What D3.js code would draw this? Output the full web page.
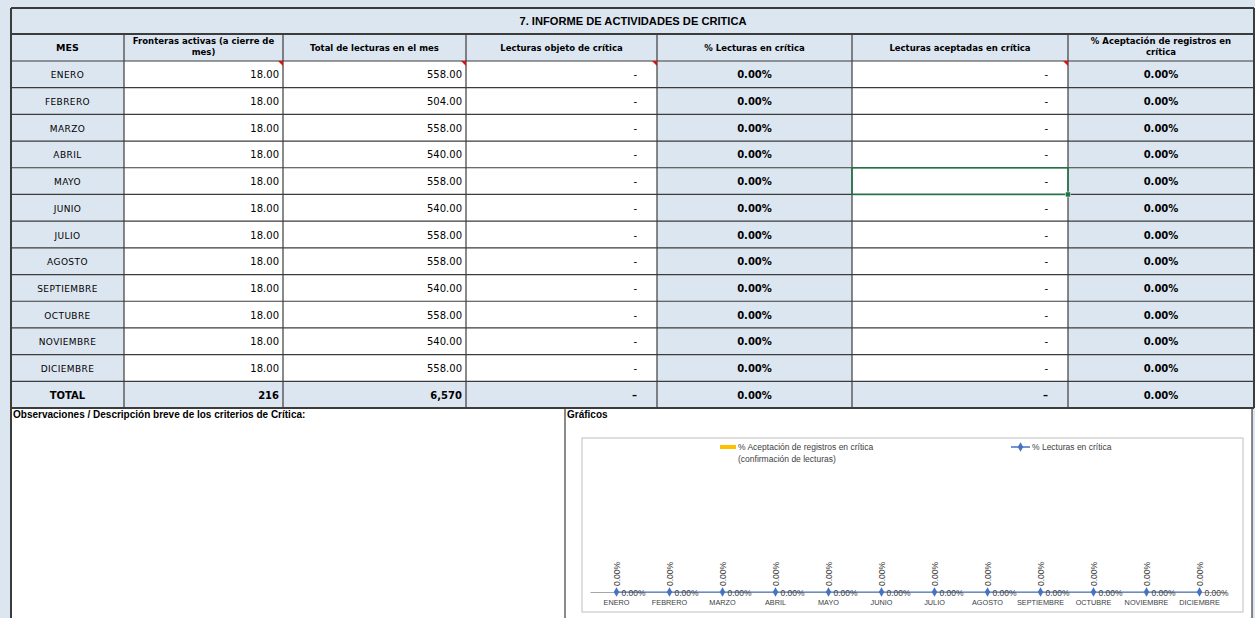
<!DOCTYPE html>
<html>
<head>
<meta charset="utf-8">
<script src="https://cdn.jsdelivr.net/npm/d3@7"></script>
<style>
  body { margin: 0; background: #dce6f1; }
  svg { display: block; }
</style>
</head>
<body>
<div id="chart"></div>
<script>
"use strict";

// ---- data ----
var months = ["ENERO", "FEBRERO", "MARZO", "ABRIL", "MAYO", "JUNIO", "JULIO",
              "AGOSTO", "SEPTIEMBRE", "OCTUBRE", "NOVIEMBRE", "DICIEMBRE"];
var fronteras = [18, 18, 18, 18, 18, 18, 18, 18, 18, 18, 18, 18];
var lecturasTotal = [558, 504, 558, 540, 558, 540, 558, 558, 540, 558, 540, 558];
var lecturasObjeto = [0, 0, 0, 0, 0, 0, 0, 0, 0, 0, 0, 0];
var pctLecturas = [0, 0, 0, 0, 0, 0, 0, 0, 0, 0, 0, 0];
var lecturasAceptadas = [0, 0, 0, 0, 0, 0, 0, 0, 0, 0, 0, 0];
var pctAceptacion = [0, 0, 0, 0, 0, 0, 0, 0, 0, 0, 0, 0];
var headers = [["MES"], ["Fronteras activas (a cierre de", "mes)"], ["Total de lecturas en el mes"],
               ["Lecturas objeto de crítica"], ["% Lecturas en crítica"],
               ["Lecturas aceptadas en crítica"], ["% Aceptación de registros en", "crítica"]];
var title = "7. INFORME DE ACTIVIDADES DE CRITICA";
var legendBar = ["% Aceptación de registros en crítica", "(confirmación de lecturas)"];
var legendLine = "% Lecturas en crítica";

var W = 1255, H = 618;
var blue = "#dce6f1", grid = "#3c3c3c";
var colX = [11, 124, 283, 466, 657, 852, 1068, 1254];
var colFill = [blue, "#fff", "#fff", "#fff", blue, "#fff", blue];

var svg = d3.select("#chart").append("svg")
            .attr("width", W).attr("height", H);

var f2 = d3.format(",.2f"), pct = d3.format(".2%"), f0 = d3.format(",");
var dash = function(v){ return v === 0 ? "-" : f2(v); };

var rows = months.map(function(m, i){
  return [m, f2(fronteras[i]), f2(lecturasTotal[i]), dash(lecturasObjeto[i]),
          pct(pctLecturas[i]), dash(lecturasAceptadas[i]), pct(pctAceptacion[i])];
});
var totalRow = ["TOTAL", f0(d3.sum(fronteras)), f0(d3.sum(lecturasTotal)),
                d3.sum(lecturasObjeto) === 0 ? "–" : f0(d3.sum(lecturasObjeto)),
                pct(d3.sum(pctLecturas)),
                d3.sum(lecturasAceptadas) === 0 ? "–" : f0(d3.sum(lecturasAceptadas)),
                pct(d3.sum(pctAceptacion))];

var rowY = d3.scaleBand().domain(d3.range(13)).range([61, 408]);
var rh = rowY.bandwidth();

// bottom white section
svg.append("rect").attr("x", 11).attr("y", 408).attr("width", 1241).attr("height", H - 408)
   .attr("fill", "#fff");

// title + header background
svg.append("rect").attr("x", 11).attr("y", 8).attr("width", 1243).attr("height", 53).attr("fill", blue);

// cells
var allRows = rows.concat([totalRow]);
allRows.forEach(function(r, i){
  var g = svg.append("g").attr("class", "row");
  r.forEach(function(v, c){
    var x0 = colX[c], x1 = colX[c + 1], y0 = rowY(i);
    g.append("rect").attr("x", x0).attr("y", y0).attr("width", x1 - x0).attr("height", rh)
     .attr("fill", i === 12 ? blue : colFill[c]);
    var t = g.append("text").attr("y", y0 + rh / 2 + 4)
             .attr("font-family", "DejaVu Sans")
             .attr("font-size", c === 0 ? 9 : 10)
             .attr("fill", "#000")
             .text(v);
    if (c === 0 || c === 4 || c === 6) {
      t.attr("x", (x0 + x1) / 2).attr("text-anchor", "middle");
    } else if (c === 3 || c === 5) {
      t.attr("x", x1 - 20).attr("text-anchor", "end");
    } else {
      t.attr("x", x1 - 4).attr("text-anchor", "end");
    }
    if (c === 0 && i < 12) t.attr("letter-spacing", 0.4);
    if (c === 4 || c === 6 || i === 12) t.attr("font-weight", "bold");
    if (i === 12 && c === 0) t.attr("font-size", 10);
  });
});

// header texts
headers.forEach(function(h, c){
  var cx = (colX[c] + colX[c + 1]) / 2;
  var t = svg.append("text").attr("x", cx).attr("text-anchor", "middle")
             .attr("font-family", "DejaVu Sans").attr("font-weight", "bold")
             .attr("font-size", c === 0 ? 9.5 : 8.5);
  h.forEach(function(line, k){
    t.append("tspan").attr("x", cx)
     .attr("y", h.length === 1 ? 51 : 44 + k * 11).text(line);
  });
});

// title
svg.append("text").attr("x", 633).attr("y", 25).attr("text-anchor", "middle")
   .attr("font-family", "Liberation Sans").attr("font-weight", "bold").attr("font-size", 11)
   .attr("textLength", 227).attr("lengthAdjust", "spacingAndGlyphs")
   .text(title);

// grid lines
var gl = svg.append("g").attr("stroke", grid).attr("fill", "none");
d3.range(14).forEach(function(i){
  var y = i === 13 ? 408 : rowY(i);
  gl.append("line").attr("x1", 11).attr("x2", 1254).attr("y1", y).attr("y2", y)
    .attr("stroke-width", i === 13 ? 2 : 1.2);
});
gl.append("line").attr("x1", 11).attr("x2", 1254).attr("y1", 34).attr("y2", 34).attr("stroke-width", 2);
gl.append("line").attr("x1", 11).attr("x2", 1254).attr("y1", 8).attr("y2", 8).attr("stroke-width", 2);
colX.forEach(function(x, c){
  gl.append("line").attr("x1", x).attr("x2", x)
    .attr("y1", c === 0 || c === 7 ? 8 : 34).attr("y2", 408)
    .attr("stroke-width", c === 0 || c === 7 ? 2 : 1.2);
});
gl.append("line").attr("x1", 11).attr("x2", 11).attr("y1", 408).attr("y2", H).attr("stroke-width", 2);
gl.append("line").attr("x1", 1252).attr("x2", 1252).attr("y1", 408).attr("y2", H).attr("stroke-width", 1.2);
gl.append("line").attr("x1", 565).attr("x2", 565).attr("y1", 408).attr("y2", H).attr("stroke-width", 1.2);

// comment markers (row ENERO)
[1, 2, 3, 5].forEach(function(c){
  var x = colX[c + 1], y = rowY(0);
  svg.append("path").attr("d", "M" + (x - 5) + "," + y + "L" + x + "," + y + "L" + x + "," + (y + 5) + "Z")
     .attr("fill", "#e01010");
});

// selected cell (MAYO, aceptadas)
svg.append("rect").attr("x", colX[5]).attr("y", rowY(4)).attr("width", colX[6] - colX[5]).attr("height", rh)
   .attr("fill", "none").attr("stroke", "#217346").attr("stroke-width", 1.5);
svg.append("rect").attr("x", colX[6] - 2.5).attr("y", rowY(4) + rh - 2.5).attr("width", 5).attr("height", 5)
   .attr("fill", "#217346").attr("stroke", "#fff").attr("stroke-width", 0.5);

// bottom labels
svg.append("text").attr("x", 13).attr("y", 418).attr("font-family", "Liberation Sans")
   .attr("font-weight", "bold").attr("font-size", 10)
   .text("Observaciones / Descripción breve de los criterios de Crítica:");
svg.append("text").attr("x", 567).attr("y", 418).attr("font-family", "Liberation Sans")
   .attr("font-weight", "bold").attr("font-size", 10).text("Gráficos");

// ---- chart ----
var ch = svg.append("g").attr("font-family", "Liberation Sans");
ch.append("rect").attr("x", 582).attr("y", 438).attr("width", 661).attr("height", 174)
  .attr("fill", "#fff").attr("stroke", "#bfbfbf");

var x = d3.scaleBand().domain(months).range([590, 1226]);
var y = d3.scaleLinear().domain([0, 1]).range([592, 470]);
var cx = function(d, i){ return x(months[i]) + x.bandwidth() / 2; };

// bars (% aceptación)
ch.selectAll("rect.bar").data(pctAceptacion).enter().append("rect")
  .attr("class", "bar")
  .attr("x", function(d, i){ return cx(d, i) - 8; })
  .attr("y", function(d){ return y(d); })
  .attr("width", 16)
  .attr("height", function(d){ return y(0) - y(d); })
  .attr("fill", "#ffc000");

// axis
var ax = ch.append("g").attr("transform", "translate(0," + y(0) + ")")
  .call(d3.axisBottom(x).tickSize(0).tickPadding(8));
ax.select(".domain").attr("stroke", "#a6a6a6");
ax.selectAll("text").attr("font-family", "Liberation Sans").attr("font-size", 7.3).attr("fill", "#404040");

// line (% lecturas)
var line = d3.line().x(function(d, i){ return cx(d, i); }).y(function(d){ return y(d); });
ch.append("path").datum(pctLecturas).attr("d", line)
  .attr("fill", "none").attr("stroke", "#4472c4").attr("stroke-width", 1.2);
ch.selectAll("path.mk").data(pctLecturas).enter().append("path")
  .attr("class", "mk")
  .attr("d", d3.symbol().type(d3.symbolDiamond).size(26))
  .attr("transform", function(d, i){ return "translate(" + cx(d, i) + "," + y(d) + ")"; })
  .attr("fill", "#4472c4");

// data labels
ch.selectAll("text.ll").data(pctLecturas).enter().append("text")
  .attr("class", "ll")
  .attr("x", function(d, i){ return cx(d, i) + 5; })
  .attr("y", function(d){ return y(d) + 4; })
  .attr("font-size", 8.5).attr("fill", "#404040")
  .text(function(d){ return pct(d); });
ch.selectAll("text.bl").data(pctAceptacion).enter().append("text")
  .attr("class", "bl")
  .attr("transform", function(d, i){ return "translate(" + (cx(d, i) + 3) + "," + (y(d) - 6) + ") rotate(-90)"; })
  .attr("font-size", 8.5).attr("fill", "#404040")
  .text(function(d){ return pct(d); });

// legend
ch.append("rect").attr("x", 720).attr("y", 445).attr("width", 16).attr("height", 4).attr("fill", "#ffc000");
var lt = ch.append("text").attr("font-size", 8.5).attr("fill", "#404040");
legendBar.forEach(function(s, k){
  lt.append("tspan").attr("x", 738).attr("y", 450 + k * 11.5).text(s);
});
ch.append("line").attr("x1", 1011).attr("x2", 1030).attr("y1", 447).attr("y2", 447)
  .attr("stroke", "#4472c4").attr("stroke-width", 1.5);
ch.append("path").attr("d", d3.symbol().type(d3.symbolDiamond).size(26))
  .attr("transform", "translate(1020.5,447)").attr("fill", "#4472c4");
ch.append("text").attr("x", 1032).attr("y", 450).attr("font-size", 8.5).attr("fill", "#404040")
  .text(legendLine);
</script>
</body>
</html>
